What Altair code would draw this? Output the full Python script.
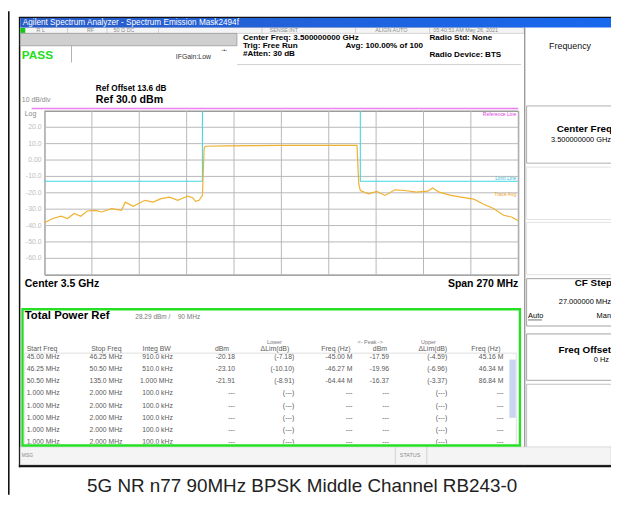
import altair as alt
import pandas as pd

# ---------------- data ----------------
CENTER_GHZ = 3.5
SPAN_MHZ = 270
REF_DBM = 30
BOTTOM_DBM = -70

# spectrum trace: offset from centre (MHz) and level (dBm)
trace_offset_mhz = [-135, -130.3, -125.6, -121.9, -118.1, -114.4, -110.6, -105.9, -102.4, -96.8,
                    -91.1, -89.0, -84.4, -81.6, -77.8, -73.1, -68.6, -63.7, -59.1, -53.4,
                    -50.6, -48.9, -46.9, -45.0, -44.0, -43.3, -30, -15, 0, 15, 30, 40, 43.1,
                    44.1, 45.0, 49.7, 54.4, 59.1, 64.7, 70.3, 76.9, 83.4, 86.2, 90, 96.6, 102.2, 109.7,
                    115.3, 120.9, 126.6, 131.2, 135]
trace_dbm = [-38.3, -35.7, -34.3, -35.7, -32.6, -34.3, -31.1, -30.7, -31.7, -29.7,
             -30.7, -25.7, -28.3, -26.7, -24.6, -25.7, -23.6, -22.7, -24.6, -22.0,
             -23.0, -25.2, -24.6, -21.6, 7.5, 8.4, 8.6, 8.8, 8.9, 8.9, 9.0, 9.0, 9.0,
             -14.6, -18.6, -20.6, -19.2, -21.6, -18.2, -18.6, -19.6, -19.0, -17.0, -19.6, -21.6, -22.6, -23.9,
             -27.0, -29.6, -33.7, -34.8, -37.1]

# emission mask (limit line)
mask_lower_mhz = [-135, -45, -45]
mask_lower_dbm = [-13, -13, 30]
mask_upper_mhz = [45, 45, 135]
mask_upper_dbm = [30, -13, -13]

# graticule
grid_dbm = [-70, -60, -50, -40, -30, -20, -10, 0, 10, 20, 30]
grid_labels = ["", "-60.0", "-50.0", "-40.0", "-30.0", "-20.0", "-10.0", "0.00", "10.0", "20.0", ""]
grid_offset_mhz = [-135, -108, -81, -54, -27, 0, 27, 54, 81, 108, 135]

# result table (3 measured ranges, then the visible unused rows)
N_EMPTY = 5
tbl_start = ["45.00 MHz", "46.25 MHz", "50.50 MHz"] + ["1.000 MHz"] * N_EMPTY
tbl_stop = ["46.25 MHz", "50.50 MHz", "135.0 MHz"] + ["2.000 MHz"] * N_EMPTY
tbl_integ = ["910.0 kHz", "510.0 kHz", "1.000 MHz"] + ["100.0 kHz"] * N_EMPTY
tbl_low_dbm = ["-20.18", "-23.10", "-21.91"] + ["---"] * N_EMPTY
tbl_low_dlim = ["(-7.18)", "(-10.10)", "(-8.91)"] + ["(---)"] * N_EMPTY
tbl_low_freq = ["-45.00 M", "-46.27 M", "-64.44 M"] + ["---"] * N_EMPTY
tbl_up_dbm = ["-17.59", "-19.96", "-16.37"] + ["---"] * N_EMPTY
tbl_up_dlim = ["(-4.59)", "(-6.96)", "(-3.37)"] + ["(---)"] * N_EMPTY
tbl_up_freq = ["45.16 M", "46.34 M", "86.84 M"] + ["---"] * N_EMPTY
tbl_headers = ["Start Freq", "Stop Freq", "Integ BW", "dBm", "\u0394Lim(dB)", "Freq (Hz)", "dBm", "\u0394Lim(dB)", "Freq (Hz)"]

# ---------------- layout (page pixels) ----------------
FONT = "Liberation Sans"
OX, OY = 45, 109          # page position of the graticule's top-left corner
PW, PH = 480, 166         # graticule size
SVG_W, SVG_H = 611, 490

one = pd.DataFrame({"k": [0]})


def R(x1, y1, x2, y2, fill="transparent", stroke="transparent", sw=0):
    return dict(x=x1 - OX, x2=x2 - OX, y=y1 - OY, y2=y2 - OY, fill=fill, stroke=stroke, sw=sw)


def rect_chart(items):
    return alt.Chart(pd.DataFrame(items)).mark_rect().encode(
        x=alt.X("x:Q", scale=None, axis=None), x2="x2:Q",
        y=alt.Y("y:Q", scale=None, axis=None), y2="y2:Q",
        fill=alt.Fill("fill:N", scale=None),
        stroke=alt.Stroke("stroke:N", scale=None),
        strokeWidth=alt.StrokeWidth("sw:Q", scale=None),
    )


rects = [
    R(8, 8, 9.6, 498, fill="#111111"),                       # page border line
    R(19, 13.5, 619, 15, fill="#111111"),                    # screenshot frame
    R(19, 14, 20.5, 470, fill="#111111"),
    R(19, 467.5, 619, 470, fill="#111111"),
    R(20.5, 24.5, 531, 30.5, fill="#f4f4f4", stroke="#bdbdbd", sw=0.6),   # status row
    R(20.5, 25, 25.5, 30, fill="#18c418"),
    R(20.5, 30.5, 240, 43, fill="#cfcfcf", stroke="#9a9a9a", sw=0.8),  # message bar
    R(72, 43, 72.8, 60, fill="#a0a0a0"),
    R(240, 61.5, 528, 62.3, fill="#c4c4c4"),                 # header separator
    R(32, 105.8, 525, 107.3, fill="#f07ef0"),                # display line (magenta)
    R(531, 24.5, 532.2, 468, fill="#8a8a8a"),                # softkey panel
    R(533.5, 104, 622, 162, stroke="#9a9a9a", sw=0.8),
    R(533.5, 166, 622, 219, stroke="#d0d0d0", sw=0.6),
    R(533.5, 222, 622, 275, stroke="#d0d0d0", sw=0.6),
    R(533.5, 279, 622, 327, stroke="#8a8a8a", sw=0.8),
    R(533.5, 335, 622, 382, stroke="#8a8a8a", sw=0.8),
    R(533.5, 386, 622, 450, stroke="#b0b0b0", sw=0.8),
    R(535, 320.5, 549, 321.2, fill="#333333"),               # "Auto" underline
    R(25, 354.5, 523, 447, stroke="#d2d2d2", sw=0.7),        # list box
    R(516, 361, 522.5, 420, fill="#c9d6f2"),                 # scroll bar
    R(20.5, 449.5, 619, 467.5, fill="#f4f4f4", stroke="#c8c8c8", sw=0.6),  # status bar
    R(400, 449.5, 400.8, 467.5, fill="#c8c8c8"),
    R(432, 449.5, 432.8, 467.5, fill="#c8c8c8"),
]
for sx in [68, 108, 160, 265, 360, 435]:
    rects.append(R(sx, 25, sx + 0.7, 30, fill="#c0c0c0"))

overlay = [
    R(24, 446.2, 525, 449.3, fill="#ffffff"),                # list box clipping strip
    R(22.7, 310, 526.7, 448, stroke="#26e026", sw=2.4),      # green result box
]

title_bar = alt.Chart(one).mark_rect(
    color=alt.Gradient(gradient="linear", x1=0, x2=1, y1=0, y2=0,
                       stops=[alt.GradientStop(color="#2a5cc8", offset=0),
                              alt.GradientStop(color="#1768ee", offset=1)])
).encode(x=alt.value(20.5 - OX), x2=alt.value(619 - OX), y=alt.value(15 - OY), y2=alt.value(24.5 - OY))

# ---------------- texts ----------------
texts = {("left", "normal"): [], ("left", "bold"): [], ("right", "normal"): [],
         ("right", "bold"): [], ("center", "normal"): [], ("center", "bold"): []}


def T(X, Y, t, s, c="#000000", align="left", weight="normal"):
    texts[(align, weight)].append(dict(x=X - OX, y=Y - OY, t=t, s=s, c=c))


T(23, 19.8, "Agilent Spectrum Analyzer - Spectrum Emission Mask2494f", 8.3, "#ffffff")
GR = "#8c8c8c"
T(37, 27.5, "R L", 5.5, GR)
T(88, 27.5, "RF", 5.5, GR)
T(115, 27.5, "50 \u03a9  DC", 5.5, GR)
T(273, 27.5, "SENSE:INT", 5.5, GR)
T(380, 27.5, "ALIGN AUTO", 5.5, GR)
T(439, 27.5, "05:40:51 AM May 26, 2021", 5.5, GR)
T(246, 35.5, "Center Freq: 3.500000000 GHz", 8.2, weight="bold")
T(246, 43.5, "Trig: Free Run", 8.2, weight="bold")
T(350, 43.5, "Avg: 100.00% of 100", 8.2, weight="bold")
T(246, 51.5, "#Atten: 30 dB", 8.2, weight="bold")
T(435, 35.5, "Radio Std: None", 8.2, weight="bold")
T(435, 52.5, "Radio Device: BTS", 8.2, weight="bold")
T(22, 52.5, "PASS", 12, "#22dd22", weight="bold")
T(178, 54.5, "IFGain:Low", 7, "#333333")
T(224, 47.5, "-\u2022-", 6, "#333333")
T(97, 87.2, "Ref Offset 13.6 dB", 8.3, weight="bold")
T(97, 98, "Ref 30.0 dBm", 10.8, weight="bold")
T(22, 98.5, "10 dB/div", 7, "#8a8a8a")
T(25, 112, "Log", 7, "#8a8a8a")
T(523, 112, "Reference Line", 5, "#e040e0", align="right")
T(523, 177, "Limit Line", 5, "#30c0dc", align="right")
T(523, 193.5, "Trace Avg", 5, "#f0a030", align="right")
T(25, 284.5, "Center  3.5 GHz", 10.6, weight="bold")
T(525, 284.5, "Span 270 MHz", 10.6, align="right", weight="bold")
T(25, 317, "Total Power Ref", 11.5, weight="bold")
T(137, 317.5, "28.29 dBm /", 6.6, "#777777")
T(180, 317.5, "90 MHz", 6.6, "#777777")
T(278, 343, "Lower", 5.5, "#777777", align="center")
T(375, 343, "<- Peak ->", 5.5, "#777777", align="center")
T(434, 343, "Upper", 5.5, "#777777", align="center")
T(577.5, 43.5, "Frequency", 9, "#111111", align="center")
T(620, 127, "Center Freq", 10, align="right", weight="bold")
T(619, 139, "3.500000000 GHz", 7.5, align="right")
T(620, 283.5, "CF Step", 10, align="right", weight="bold")
T(619, 303, "27.000000 MHz", 7.5, align="right")
T(535, 316.5, "Auto", 7.5)
T(619, 316.5, "Man", 7.5, align="right")
T(619, 351, "Freq Offset", 10, align="right", weight="bold")
T(617, 361, "0 Hz", 7.5, align="right")
T(22, 458, "MSG", 5, "#8a8a8a")
T(405, 458, "STATUS", 5.5, "#8a8a8a")
T(306, 489, "5G NR n77 90MHz BPSK Middle Channel RB243-0", 19.1, "#222222", align="center")

# table: header row and body rows
TBL = "#5a5a5a"
head_x = [27, 123, 173, 232, 293, 355, 392, 453, 507]
col_x = [27, 124, 175, 238, 298, 357, 394, 453, 510]
row_y0, row_dy = 358.3, 12.35
for j, h in enumerate(tbl_headers):
    T(head_x[j], 350.5, h, 7, TBL, align="left" if j == 0 else "right")
cols = [tbl_start, tbl_stop, tbl_integ, tbl_low_dbm, tbl_low_dlim, tbl_low_freq,
        tbl_up_dbm, tbl_up_dlim, tbl_up_freq]
for j, col in enumerate(cols):
    for i, v in enumerate(col):
        T(col_x[j], row_y0 + i * row_dy, v, 6.9, TBL, align="left" if j == 0 else "right")

text_layers = []
for (align, weight), items in texts.items():
    if not items:
        continue
    text_layers.append(
        alt.Chart(pd.DataFrame(items)).mark_text(align=align, baseline="middle", fontWeight=weight, font=FONT).encode(
            x=alt.X("x:Q", scale=None, axis=None), y=alt.Y("y:Q", scale=None, axis=None),
            text="t:N", size=alt.Size("s:Q", scale=None), color=alt.Color("c:N", scale=None))
    )

# ---------------- spectrum ----------------
f_lo = CENTER_GHZ - SPAN_MHZ / 2000
f_hi = CENTER_GHZ + SPAN_MHZ / 2000
x_scale = alt.Scale(domain=[f_lo, f_hi], nice=False, zero=False)
y_scale = alt.Scale(domain=[BOTTOM_DBM, REF_DBM], nice=False, zero=False)

hgrid_df = pd.DataFrame({"dbm": grid_dbm, "lab": grid_labels})
vgrid_df = pd.DataFrame({"f": [CENTER_GHZ + o / 1000 for o in grid_offset_mhz]})

hgrid = alt.Chart(hgrid_df).mark_rule(color="#b8b8b8", strokeWidth=1).encode(
    y=alt.Y("dbm:Q", scale=y_scale, axis=None), x=alt.value(0), x2=alt.value(PW))
vgrid = alt.Chart(vgrid_df).mark_rule(color="#b8b8b8", strokeWidth=1).encode(
    x=alt.X("f:Q", scale=x_scale, axis=None), y=alt.value(0), y2=alt.value(PH))
ylabels = alt.Chart(hgrid_df).mark_text(align="right", baseline="middle", fontSize=7, color="#bdbdbd", font=FONT).encode(
    y=alt.Y("dbm:Q", scale=y_scale, axis=None), x=alt.value(-3), text="lab:N")

trace_df = pd.DataFrame({
    "f": [CENTER_GHZ + o / 1000 for o in trace_offset_mhz],
    "dbm": trace_dbm,
    "i": list(range(len(trace_dbm))),
})
mask_df = pd.DataFrame({
    "f": [CENTER_GHZ + o / 1000 for o in mask_lower_mhz + mask_upper_mhz],
    "dbm": mask_lower_dbm + mask_upper_dbm,
    "side": ["lower"] * len(mask_lower_mhz) + ["upper"] * len(mask_upper_mhz),
    "i": list(range(len(mask_lower_mhz) + len(mask_upper_mhz))),
})

mask = alt.Chart(mask_df).mark_line(color="#44d6e6", strokeWidth=1.1).encode(
    x=alt.X("f:Q", scale=x_scale, axis=None),
    y=alt.Y("dbm:Q", scale=y_scale, axis=None),
    detail="side:N", order="i:Q")
trace = alt.Chart(trace_df).mark_line(color="#f0b12e", strokeWidth=1.2).encode(
    x=alt.X("f:Q", scale=x_scale, axis=None), y=alt.Y("dbm:Q", scale=y_scale, axis=None), order="i:Q")

chart = alt.layer(rect_chart(rects), title_bar, hgrid, vgrid, ylabels, mask, trace, *text_layers,
                  rect_chart(overlay)).properties(
    width=PW, height=PH,
    padding={"left": OX - 8, "top": OY - 8, "right": SVG_W - (OX - 8) - PW, "bottom": SVG_H - (OY - 8) - PH},
    autosize=alt.AutoSizeParams(type="none"),
    background="#ffffff",
).configure_view(stroke="#7a7a7a", strokeWidth=1)

chart.save("out.html", embed_options={"renderer": "svg", "actions": False})
